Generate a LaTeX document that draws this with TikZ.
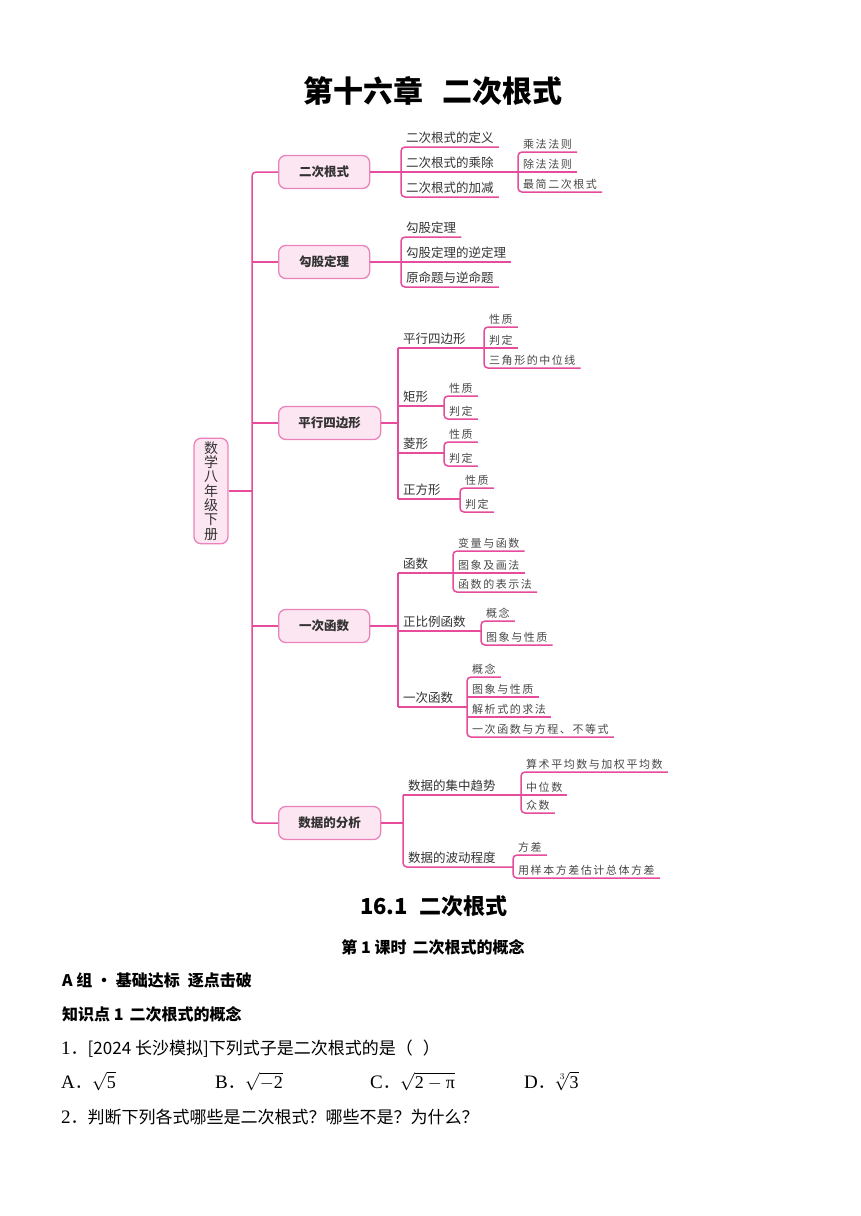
\RequirePackage{fix-cm}
\documentclass[tikz,border=0pt]{standalone}
\usepackage{amsmath}
\usepackage{fontspec}
\setmainfont{Noto Sans CJK SC}
\newfontfamily\serifl[Scale=1.12]{Liberation Serif}
\newfontfamily\serifn{Liberation Serif}
\newfontfamily\spaced[LetterSpace=14]{Noto Sans CJK SC}
\usepackage{tikz}
\usetikzlibrary{positioning}
\definecolor{mmline}{HTML}{E64B9C}
\definecolor{mmedge}{HTML}{EA82BC}
\definecolor{mmfill}{HTML}{FCE6F1}
\definecolor{txt}{HTML}{333333}
\definecolor{subtxt}{HTML}{484848}
\newcommand{\bigmath}[1]{{\fontsize{18}{20}\selectfont$#1$}}
\tikzset{
  topic/.style={draw=mmedge, fill=mmfill, line width=1.3pt, rounded corners=2.5mm,
                anchor=west, minimum width=91pt, minimum height=33pt,
                font=\fontsize{12.5}{15}\selectfont\bfseries, text=txt},
  lk/.style={draw=mmline, line width=1.5pt, rounded corners=4pt},
  itm/.style={anchor=south west, inner xsep=5pt, inner ysep=4pt, text depth=0pt,
              font=\fontsize{12.5}{15}\selectfont, text=txt},
  subitm/.style={itm, inner ysep=3.5pt, font=\spaced\fontsize{11}{13}\selectfont, text=subtxt},
  head/.style={font=\fontsize{16}{19}\selectfont\bfseries, inner sep=2pt},
  body/.style={anchor=base west, inner sep=1pt, text height=12pt, text depth=3pt,
               font=\fontsize{17}{20}\selectfont},
}

\begin{document}
\begin{tikzpicture}[x=1pt, y=-1pt]
  \fill[white] (0,0) rectangle (860,1216);
  \useasboundingbox (0,0) rectangle (860,1216);

  \node[head, font=\fontsize{30}{36}\selectfont\bfseries] (title) at (433,91) {第十六章\hspace{20pt}二次根式};

  % root and topics
  \node[draw=mmedge, fill=mmfill, line width=1.3pt, rounded corners=2.5mm,
        minimum width=34pt, minimum height=104pt, align=center, text=txt,
        font=\fontsize{14}{14.3}\selectfont] (root) at (211,491) {数\\学\\八\\年\\级\\下\\册};
  \coordinate (spine) at (252,491);
  \node[topic] (b1) at (278,172) {二次根式};
  \node[topic] (b2) at (278,262) {勾股定理};
  \node[topic, minimum width=102pt] (b3) at (278,423) {平行四边形};
  \node[topic] (b4) at (278,626) {一次函数};
  \node[topic, minimum width=102pt] (b5) at (278,823) {数据的分析};
  \draw[lk] (b1.west) -- (b1.west -| spine) -- (b5.west -| spine) -- (b5.west);
  \draw[lk] (root.east) -- (root.east -| spine);
  \foreach \b in {b2,b3,b4}
    \draw[lk] (\b.west) -- (\b.west -| spine);

  % 二次根式
  \node[itm] (a1) at (401,147) {二次根式的定义};
  \node[itm] (a2) at (401,172) {二次根式的乘除};
  \node[itm] (a3) at (401,197) {二次根式的加减};
  \node[subitm] (a21) at (518,152) {乘法法则};
  \node[subitm] (a22) at (518,172) {除法法则};
  \node[subitm] (a23) at (518,192) {最简二次根式};
  \draw[lk] (b1.east) -- (b1.east -| a2.south west);
  \draw[lk] (a1.south east) -- (a1.south west) -- (a3.south west) -- (a3.south east);
  \draw[lk] (a2.south west) -- (a22.south east);
  \draw[lk] (a21.south east) -- (a21.south west) -- (a23.south west) -- (a23.south east);

  % 勾股定理
  \node[itm] (g1) at (401,237) {勾股定理};
  \node[itm] (g2) at (401,262) {勾股定理的逆定理};
  \node[itm] (g3) at (401,287) {原命题与逆命题};
  \draw[lk] (b2.east) -- (g2.south west) -- (g2.south east);
  \draw[lk] (g1.south east) -- (g1.south west) -- (g3.south west) -- (g3.south east);

  % 平行四边形
  \node[itm] (p1) at (398,348) {平行四边形};
  \node[itm] (p2) at (398,406) {矩形};
  \node[itm] (p3) at (398,453) {菱形};
  \node[itm] (p4) at (398,499) {正方形};
  \node[subitm] (p11) at (484,327) {性质};
  \node[subitm] (p12) at (484,348) {判定};
  \node[subitm] (p13) at (484,368) {三角形的中位线};
  \node[subitm] (p21) at (444,396) {性质};
  \node[subitm] (p22) at (444,419) {判定};
  \node[subitm] (p31) at (444,442) {性质};
  \node[subitm] (p32) at (444,466) {判定};
  \node[subitm] (p41) at (460,488) {性质};
  \node[subitm] (p42) at (460,512) {判定};
  \draw[lk] (b3.east) -- (b3.east -| p1.south west);
  \draw[lk] (p1.south west) -- (p12.south east);
  \draw[lk] (p1.south west) -- (p4.south west);
  \foreach \i in {2,3,4}
    \draw[lk] (p\i.south west) -- (p\i.south -| p\i1.south west);
  \draw[lk] (p11.south east) -- (p11.south west) -- (p13.south west) -- (p13.south east);
  \foreach \i in {2,3,4}
    \draw[lk] (p\i1.south east) -- (p\i1.south west) -- (p\i2.south west) -- (p\i2.south east);

  % 一次函数
  \node[itm] (f1) at (398,573) {函数};
  \node[itm] (f2) at (398,631) {正比例函数};
  \node[itm] (f3) at (398,707) {一次函数};
  \node[subitm] (f11) at (453,551) {变量与函数};
  \node[subitm] (f12) at (453,573) {图象及画法};
  \node[subitm] (f13) at (453,592) {函数的表示法};
  \node[subitm] (f21) at (481,621) {概念};
  \node[subitm] (f22) at (481,645) {图象与性质};
  \node[subitm] (f31) at (467,677) {概念};
  \node[subitm] (f32) at (467,697) {图象与性质};
  \node[subitm] (f33) at (467,717) {解析式的求法};
  \node[subitm] (f34) at (467,737) {一次函数与方程、不等式};
  \draw[lk] (b4.east) -- (b4.east -| f1.south west);
  \draw[lk] (f1.south west) -- (f3.south west);
  \draw[lk] (f1.south west) -- (f12.south east);
  \draw[lk] (f11.south east) -- (f11.south west) -- (f13.south west) -- (f13.south east);
  \draw[lk] (f2.south west) -- (f2.south -| f21.south west);
  \draw[lk] (f21.south east) -- (f21.south west) -- (f22.south west) -- (f22.south east);
  \draw[lk] (f3.south west) -- (f3.south -| f31.south west);
  \draw[lk] (f31.south east) -- (f31.south west) -- (f34.south west) -- (f34.south east);
  \foreach \n in {f32,f33}
    \draw[lk] (\n.south west) -- (\n.south east);

  % 数据的分析
  \node[itm] (d1) at (403,795) {数据的集中趋势};
  \node[itm] (d2) at (403,867) {数据的波动程度};
  \node[subitm] (d11) at (521,772) {算术平均数与加权平均数};
  \node[subitm] (d12) at (521,795) {中位数};
  \node[subitm] (d13) at (521,813) {众数};
  \node[subitm] (d21) at (513,855) {方差};
  \node[subitm] (d22) at (513,878) {用样本方差估计总体方差};
  \draw[lk] (b5.east) -- (b5.east -| d1.south west);
  \draw[lk] (d1.south west) -- (d2.south west) -- (d2.south -| d21.south west);
  \draw[lk] (d1.south west) -- (d12.south east);
  \draw[lk] (d11.south east) -- (d11.south west) -- (d13.south west) -- (d13.south east);
  \draw[lk] (d21.south east) -- (d21.south west) -- (d22.south west) -- (d22.south east);

  % text below the map
  \node[head, font=\fontsize{22}{26}\selectfont\bfseries] (sec) at (434,906) {16.1\hspace{12pt}二次根式};
  \node[head] (lesson) at (433,947) {第 1 课时\hspace{6pt}二次根式的概念};
  \node[head, anchor=west] (grp) at (60,980) {A 组 · 基础达标\hspace{8pt}逐点击破};
  \node[head, anchor=west] (kp) at (60,1014) {知识点 1\hspace{6pt}二次根式的概念};
  \node[body] (q1) at (60,1054) {{\serifl 1}．[2024 长沙模拟]下列式子是二次根式的是（\hspace{0.6em}）};
  \node[body] (ca) at (60,1088) {{\serifl A}．\bigmath{\sqrt{\text{\serifn 5}}}};
  \node[body] (cb) at (214,1088) {{\serifl B}．\bigmath{\sqrt{-\text{\serifn 2}}}};
  \node[body] (cc) at (369,1088) {{\serifl C}．\bigmath{\sqrt{\text{\serifn 2}-\text{\serifn π}}}};
  \node[body] (cd) at (523,1088) {{\serifl D}．\bigmath{\sqrt[3]{\text{\serifn 3}}}};
  \node[body] (q2) at (60,1123) {{\serifl 2}．判断下列各式哪些是二次根式？哪些不是？为什么？};
\end{tikzpicture}
\end{document}
